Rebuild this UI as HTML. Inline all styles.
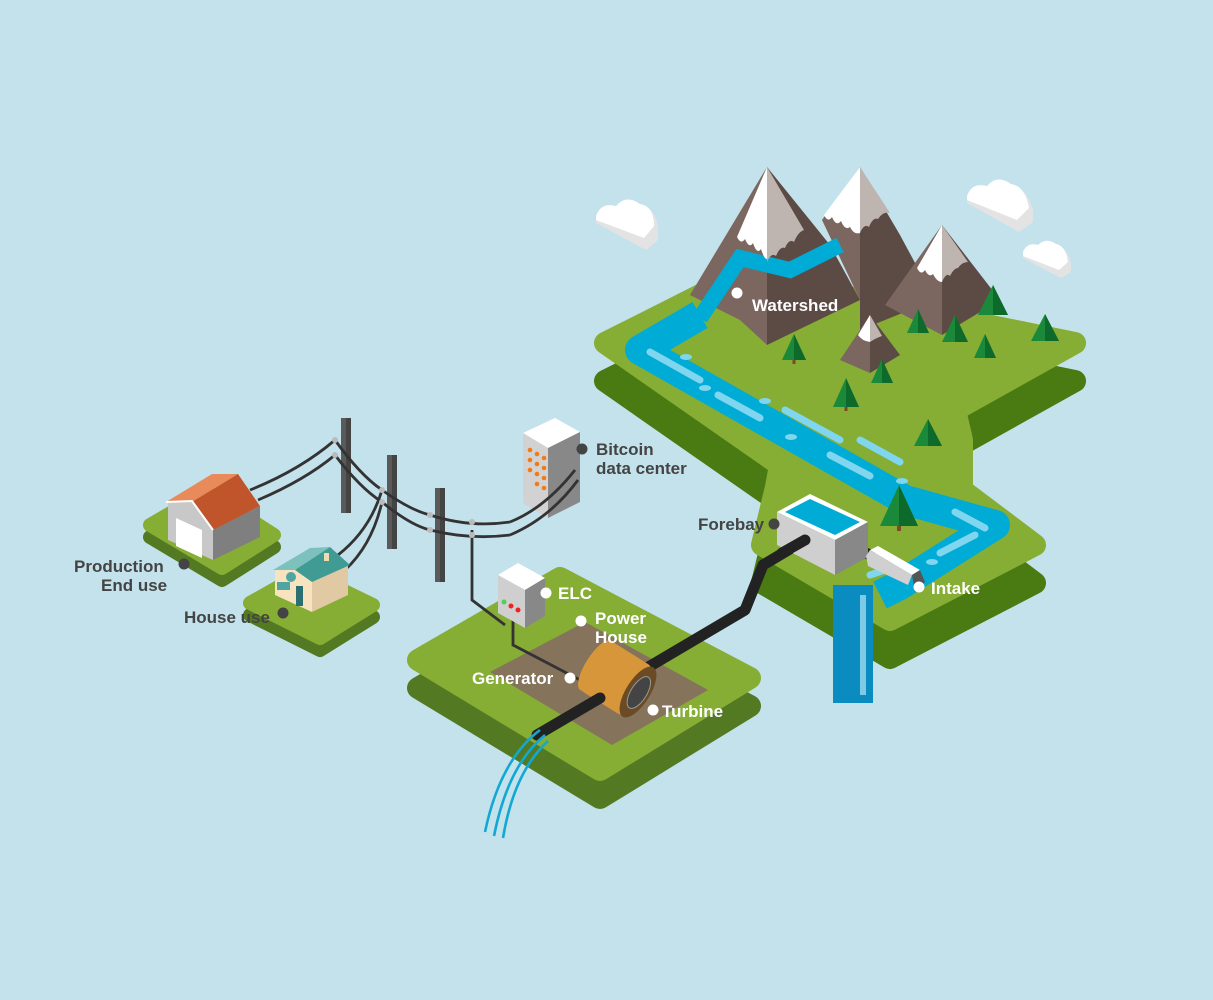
<!DOCTYPE html>
<html><head><meta charset="utf-8"><style>
html,body{margin:0;padding:0;background:#c4e2ec;}
svg{display:block}
text{font-family:"Liberation Sans",sans-serif;font-size:17px;font-weight:bold}
.d{fill:#444}.w{fill:#fff}
</style></head><body>
<svg width="1213" height="1000" viewBox="0 0 1213 1000" xmlns="http://www.w3.org/2000/svg">
<rect width="1213" height="1000" fill="#c4e2ec"/>

<!-- clouds -->
<g>
<g transform="translate(596,198)"><path d="M0,20 Q5,5 20,10 Q30,-2 45,8 Q60,10 62,30 L62,42 L50,52 L0,25Z" fill="#e3e3e3"/><path d="M0,18 Q5,4 20,8 Q30,-4 44,6 Q58,8 58,28 L48,40 L0,22Z" fill="#fff"/></g>
<g transform="translate(967,178)"><path d="M0,20 Q5,5 20,10 Q30,-2 45,8 Q60,10 66,32 L66,44 L52,54 L0,25Z" fill="#e3e3e3"/><path d="M0,18 Q5,4 20,8 Q30,-4 44,6 Q58,8 62,30 L50,42 L0,22Z" fill="#fff"/></g>
<g transform="translate(1023,240)"><path d="M0,14 Q4,3 15,7 Q23,-2 34,6 Q45,8 48,24 L48,32 L38,38 L0,18Z" fill="#e3e3e3"/><path d="M0,12 Q4,2 15,5 Q23,-3 33,4 Q43,6 45,22 L36,30 L0,16Z" fill="#fff"/></g>
</g>

<!-- upper land -->
<g stroke-linejoin="round">
<polygon transform="translate(0,38)" points="605,343 740,275 1075,343 955,410 962,440 962,490 1035,545 890,620 762,545 776,487 780,465" fill="#4a7a12" stroke="#4a7a12" stroke-width="22"/>
<polygon points="605,343 740,275 1075,343 955,410 962,440 962,490 1035,545 890,620 762,545 776,487 780,465" fill="#86ad34" stroke="#86ad34" stroke-width="22"/>
</g>

<!-- waterfall -->
<rect x="833" y="585" width="40" height="115" fill="#0a8cc0"/>
<path d="M833,695 q5,10 10,0 q5,10 10,0 q5,10 10,0 q5,10 10,0 v8 h-40z" fill="#0a8cc0"/>
<rect x="860" y="595" width="6" height="100" fill="#7fcbe6"/>

<!-- river -->
<polyline points="700,315 640,350 905,500 995,525 900,585 880,595" fill="none" stroke="#00acd6" stroke-width="30" stroke-linejoin="round"/>
<g stroke="#7fd6ee" stroke-width="7" stroke-linecap="round" fill="none">
<line x1="650" y1="352" x2="700" y2="380"/>
<line x1="718" y1="395" x2="760" y2="418"/><line x1="785" y1="410" x2="840" y2="440"/>
<line x1="830" y1="455" x2="870" y2="476"/><line x1="860" y1="440" x2="900" y2="462"/>
<line x1="955" y1="512" x2="985" y2="528"/><line x1="975" y1="535" x2="940" y2="553"/>
<line x1="870" y1="575" x2="900" y2="565"/>
</g>
<g fill="#7fd6ee"><ellipse cx="686" cy="357" rx="6" ry="3"/><ellipse cx="705" cy="388" rx="6" ry="3"/><ellipse cx="765" cy="401" rx="6" ry="3"/><ellipse cx="791" cy="437" rx="6" ry="3"/><ellipse cx="902" cy="481" rx="6" ry="3"/><ellipse cx="932" cy="562" rx="6" ry="3"/></g>

<!-- mountains -->
<polygon points="860,167 822,220 860,300" fill="#7b6660"/>
<polygon points="860,167 860,330 935,300 900,235" fill="#5c4a44"/>
<polygon points="767,167 690,295 740,320 767,345" fill="#7b6660"/>
<polygon points="767,167 767,345 860,300 830,245" fill="#5c4a44"/>
<polygon points="942,225 885,305 942,335" fill="#7b6660"/>
<polygon points="942,225 942,335 1000,300" fill="#5c4a44"/>
<polygon points="870,315 840,360 870,373" fill="#7b6660"/>
<polygon points="870,315 870,373 900,355" fill="#5c4a44"/>
<!-- river over mountain -->
<polyline points="840,245 790,270 740,258 700,318" fill="none" stroke="#00acd6" stroke-width="16" stroke-linejoin="miter"/>
<!-- snow -->
<path d="M767,167 L737,237 q4,8 8,2 q4,10 8,4 q4,12 8,6 q3,10 6,10 Z" fill="#fff"/>
<path d="M767,167 L767,262 q4,-10 9,-6 q4,-10 9,-8 q4,-10 9,-6 q4,-10 10,-12 Z" fill="#beb4b0"/>
<path d="M860,167 L824,215 q4,8 8,2 q4,10 9,4 q4,10 9,6 q4,8 10,6 Z" fill="#fff"/>
<path d="M860,167 L860,233 q4,-10 9,-6 q4,-10 9,-8 q5,-8 12,-6 Z" fill="#beb4b0"/>
<path d="M942,225 L917,268 q4,8 8,2 q4,8 8,4 q4,8 9,8 Z" fill="#fff"/>
<path d="M942,225 L942,282 q4,-10 8,-6 q4,-8 8,-8 q4,-6 10,-6 Z" fill="#beb4b0"/>
<path d="M870,315 L858,335 q4,6 12,7z" fill="#fff"/>
<path d="M870,315 L870,342 q6,-4 12,-6z" fill="#beb4b0"/>

<!-- trees -->
<g>
<g transform="translate(794,352)"><polygon points="0,-18 -12,8 12,8" fill="#1a8a3a"/><polygon points="0,-18 0,8 12,8" fill="#0d6a2a"/><rect x="-1.5" y="8" width="3" height="4" fill="#7a4a2a"/></g>
<g transform="translate(846,398)"><polygon points="0,-20 -13,9 13,9" fill="#1a8a3a"/><polygon points="0,-20 0,9 13,9" fill="#0d6a2a"/><rect x="-1.5" y="9" width="3" height="4" fill="#7a4a2a"/></g>
<g transform="translate(882,375)"><polygon points="0,-16 -11,8 11,8" fill="#1a8a3a"/><polygon points="0,-16 0,8 11,8" fill="#0d6a2a"/></g>
<g transform="translate(918,325)"><polygon points="0,-16 -11,8 11,8" fill="#1a8a3a"/><polygon points="0,-16 0,8 11,8" fill="#0d6a2a"/></g>
<g transform="translate(955,333)"><polygon points="0,-18 -13,9 13,9" fill="#1a8a3a"/><polygon points="0,-18 0,9 13,9" fill="#0d6a2a"/></g>
<g transform="translate(985,350)"><polygon points="0,-16 -11,8 11,8" fill="#1a8a3a"/><polygon points="0,-16 0,8 11,8" fill="#0d6a2a"/></g>
<g transform="translate(993,305)"><polygon points="0,-20 -15,10 15,10" fill="#1a8a3a"/><polygon points="0,-20 0,10 15,10" fill="#0d6a2a"/></g>
<g transform="translate(1045,332)"><polygon points="0,-18 -14,9 14,9" fill="#1a8a3a"/><polygon points="0,-18 0,9 14,9" fill="#0d6a2a"/></g>
<g transform="translate(928,437)"><polygon points="0,-18 -14,9 14,9" fill="#1a8a3a"/><polygon points="0,-18 0,9 14,9" fill="#0d6a2a"/></g>
<g transform="translate(899,512)"><polygon points="0,-27 -19,14 19,14" fill="#1a8a3a"/><polygon points="0,-27 0,14 19,14" fill="#0d6a2a"/><rect x="-2" y="14" width="4" height="5" fill="#7a4a2a"/></g>
</g>

<!-- powerhouse platform -->
<g stroke-linejoin="round">
<polygon transform="translate(0,28)" points="418,660 560,578 750,678 600,770" fill="#537a22" stroke="#537a22" stroke-width="22"/>
<polygon points="418,660 560,578 750,678 600,770" fill="#86ad34" stroke="#86ad34" stroke-width="22"/>
</g>
<polygon points="490,672 585,622 708,690 612,745" fill="#85735c"/>

<!-- penstock -->
<polyline points="805,540 763,565 745,610 640,672" fill="none" stroke="#222" stroke-width="11" stroke-linejoin="round" stroke-linecap="round"/>
<polyline points="855,548 870,555" stroke="#222" stroke-width="11" stroke-linecap="round"/>
<!-- forebay -->
<polygon points="777,512 810,494 868,522 835,540" fill="#fff"/>
<polygon points="785,512 810,499 860,522 835,535" fill="#00acd6"/>
<polygon points="777,512 835,540 835,575 777,545" fill="#cfcfcf"/>
<polygon points="835,540 868,522 868,557 835,575" fill="#888"/>
<line x1="805" y1="540" x2="782" y2="553" stroke="#222" stroke-width="11" stroke-linecap="round"/>
<!-- intake -->
<polygon points="870,550 878,546 920,570 912,575" fill="#fff"/>
<polygon points="866,556 870,550 912,575 908,585 868,566" fill="#d0d0d0"/>
<polygon points="912,575 920,570 925,582 915,592" fill="#555"/>

<!-- data center -->
<polygon points="523,433 555,418 580,432 548,448" fill="#fff"/>
<polygon points="523,433 548,448 548,518 523,503" fill="#d2d2d2"/>
<polygon points="548,448 580,432 580,502 548,518" fill="#888"/>
<g fill="#f07b18"><circle cx="530" cy="450" r="2.3"/><circle cx="537" cy="454" r="2.3"/><circle cx="544" cy="458" r="2.3"/><circle cx="530" cy="460" r="2.3"/><circle cx="537" cy="464" r="2.3"/><circle cx="544" cy="468" r="2.3"/><circle cx="530" cy="470" r="2.3"/><circle cx="537" cy="474" r="2.3"/><circle cx="544" cy="478" r="2.3"/><circle cx="537" cy="484" r="2.3"/><circle cx="544" cy="488" r="2.3"/></g>

<!-- poles -->
<g>
<rect x="341" y="418" width="10" height="95" fill="#5a5a5a"/><rect x="346" y="418" width="5" height="95" fill="#444"/>
<rect x="387" y="455" width="10" height="94" fill="#5a5a5a"/><rect x="392" y="455" width="5" height="94" fill="#444"/>
<rect x="435" y="488" width="10" height="94" fill="#5a5a5a"/><rect x="440" y="488" width="5" height="94" fill="#444"/>
</g>
<!-- wires -->
<g fill="none" stroke="#333" stroke-width="2.8">
<path d="M250,490 Q300,470 335,440"/>
<path d="M258,500 Q305,480 335,455"/>
<path d="M335,440 Q360,475 382,490 Q410,510 430,515 Q470,528 510,522"/>
<path d="M335,455 Q360,488 382,502 Q410,525 430,530 Q470,540 510,535"/>
<path d="M510,522 Q545,508 575,470"/>
<path d="M510,535 Q550,518 578,480"/>
<path d="M382,490 Q370,530 338,555"/>
<path d="M382,502 Q372,545 345,570"/>
<path d="M472,530 L472,600 L505,625"/>
<path d="M513,620 L513,645 L580,680"/>
</g>
<g fill="#bbb"><circle cx="335" cy="440" r="3"/><circle cx="335" cy="455" r="3"/><circle cx="382" cy="490" r="3"/><circle cx="382" cy="502" r="3"/><circle cx="430" cy="515" r="3"/><circle cx="430" cy="530" r="3"/><circle cx="472" cy="522" r="3"/><circle cx="472" cy="535" r="3"/></g>

<!-- ELC -->
<polygon points="498,575 518,563 545,578 525,590" fill="#fff"/>
<polygon points="498,575 525,590 525,628 498,613" fill="#cfcfcf"/>
<polygon points="525,590 545,578 545,616 525,628" fill="#888"/>
<circle cx="504" cy="602" r="2.5" fill="#5c5"/><circle cx="511" cy="606" r="2.5" fill="#e22"/><circle cx="518" cy="610" r="2.5" fill="#e22"/>

<!-- generator -->
<g transform="translate(638,692) rotate(32)">
<rect x="-52" y="-29" width="52" height="58" fill="#d8963a" rx="6"/>
<ellipse cx="-50" cy="0" rx="10" ry="29" fill="#d8963a"/>
<ellipse cx="0" cy="0" rx="12" ry="29" fill="#6b4a26"/>
<ellipse cx="1" cy="0" rx="8" ry="18" fill="#444" stroke="#999" stroke-width="1"/>
</g>
<line x1="600" y1="698" x2="537" y2="735" stroke="#222" stroke-width="11" stroke-linecap="round"/>
<g fill="none" stroke="#12a8d4" stroke-width="2.6">
<path d="M540,730 Q500,760 485,832"/><path d="M545,735 Q508,765 494,836"/><path d="M548,741 Q514,772 503,838"/>
</g>

<!-- house platforms -->
<g stroke-linejoin="round">
<polygon transform="translate(0,12)" points="150,525 207,492 274,535 222,568" fill="#537a22" stroke="#537a22" stroke-width="14"/>
<polygon points="150,525 207,492 274,535 222,568" fill="#86ad34" stroke="#86ad34" stroke-width="14"/>
<polygon transform="translate(0,12)" points="250,603 305,572 373,605 320,638" fill="#537a22" stroke="#537a22" stroke-width="14"/>
<polygon points="250,603 305,572 373,605 320,638" fill="#86ad34" stroke="#86ad34" stroke-width="14"/>
</g>
<!-- production house -->
<polygon points="168,502 192,501 213,530 213,560 168,540" fill="#c8c8c8"/>
<polygon points="213,530 260,506 260,537 213,560" fill="#7f7f7f"/>
<polygon points="176,518 202,530 202,558 176,546" fill="#fff"/>
<polygon points="166,502 212,474 238,474 192,502" fill="#e98a5a"/>
<polygon points="192,502 238,474 260,506 213,530" fill="#c0552b"/>
<polyline points="166,502 192,501 213,530" fill="none" stroke="#fff" stroke-width="2"/>
<!-- teal house -->
<polygon points="275,570 296,568 312,580 312,612 275,595" fill="#f8e3c0"/>
<polygon points="312,580 348,562 348,595 312,612" fill="#e0c9a3"/>
<polygon points="273,570 310,548 330,547 295,570" fill="#7cc1bb"/>
<polygon points="295,570 330,547 350,565 312,582" fill="#3f9b93"/>
<rect x="296" y="586" width="7" height="20" fill="#2a7070"/>
<circle cx="291" cy="577" r="5" fill="#4fa5a0"/>
<rect x="277" y="582" width="13" height="8" fill="#4fa5a0"/>
<rect x="324" y="553" width="5" height="8" fill="#f0dbb0"/>

<!-- labels -->
<circle cx="737" cy="293" r="5.5" fill="#fff"/><text x="752" y="311" class="w">Watershed</text>
<circle cx="582" cy="449" r="5.5" fill="#444"/><text x="596" y="455" class="d">Bitcoin</text><text x="596" y="474" class="d">data center</text>
<circle cx="774" cy="524" r="5.5" fill="#444"/><text x="698" y="530" class="d">Forebay</text>
<circle cx="919" cy="587" r="5.5" fill="#fff"/><text x="931" y="594" class="w">Intake</text>
<circle cx="184" cy="564" r="5.5" fill="#444"/><text x="74" y="572" class="d">Production</text><text x="101" y="591" class="d">End use</text>
<circle cx="283" cy="613" r="5.5" fill="#444"/><text x="184" y="623" class="d">House use</text>
<circle cx="546" cy="593" r="5.5" fill="#fff"/><text x="558" y="599" class="w">ELC</text>
<circle cx="581" cy="621" r="5.5" fill="#fff"/><text x="595" y="624" class="w">Power</text><text x="595" y="643" class="w">House</text>
<circle cx="570" cy="678" r="5.5" fill="#fff"/><text x="472" y="684" class="w">Generator</text>
<circle cx="653" cy="710" r="5.5" fill="#fff"/><text x="662" y="717" class="w">Turbine</text>
</svg>
</body></html>
